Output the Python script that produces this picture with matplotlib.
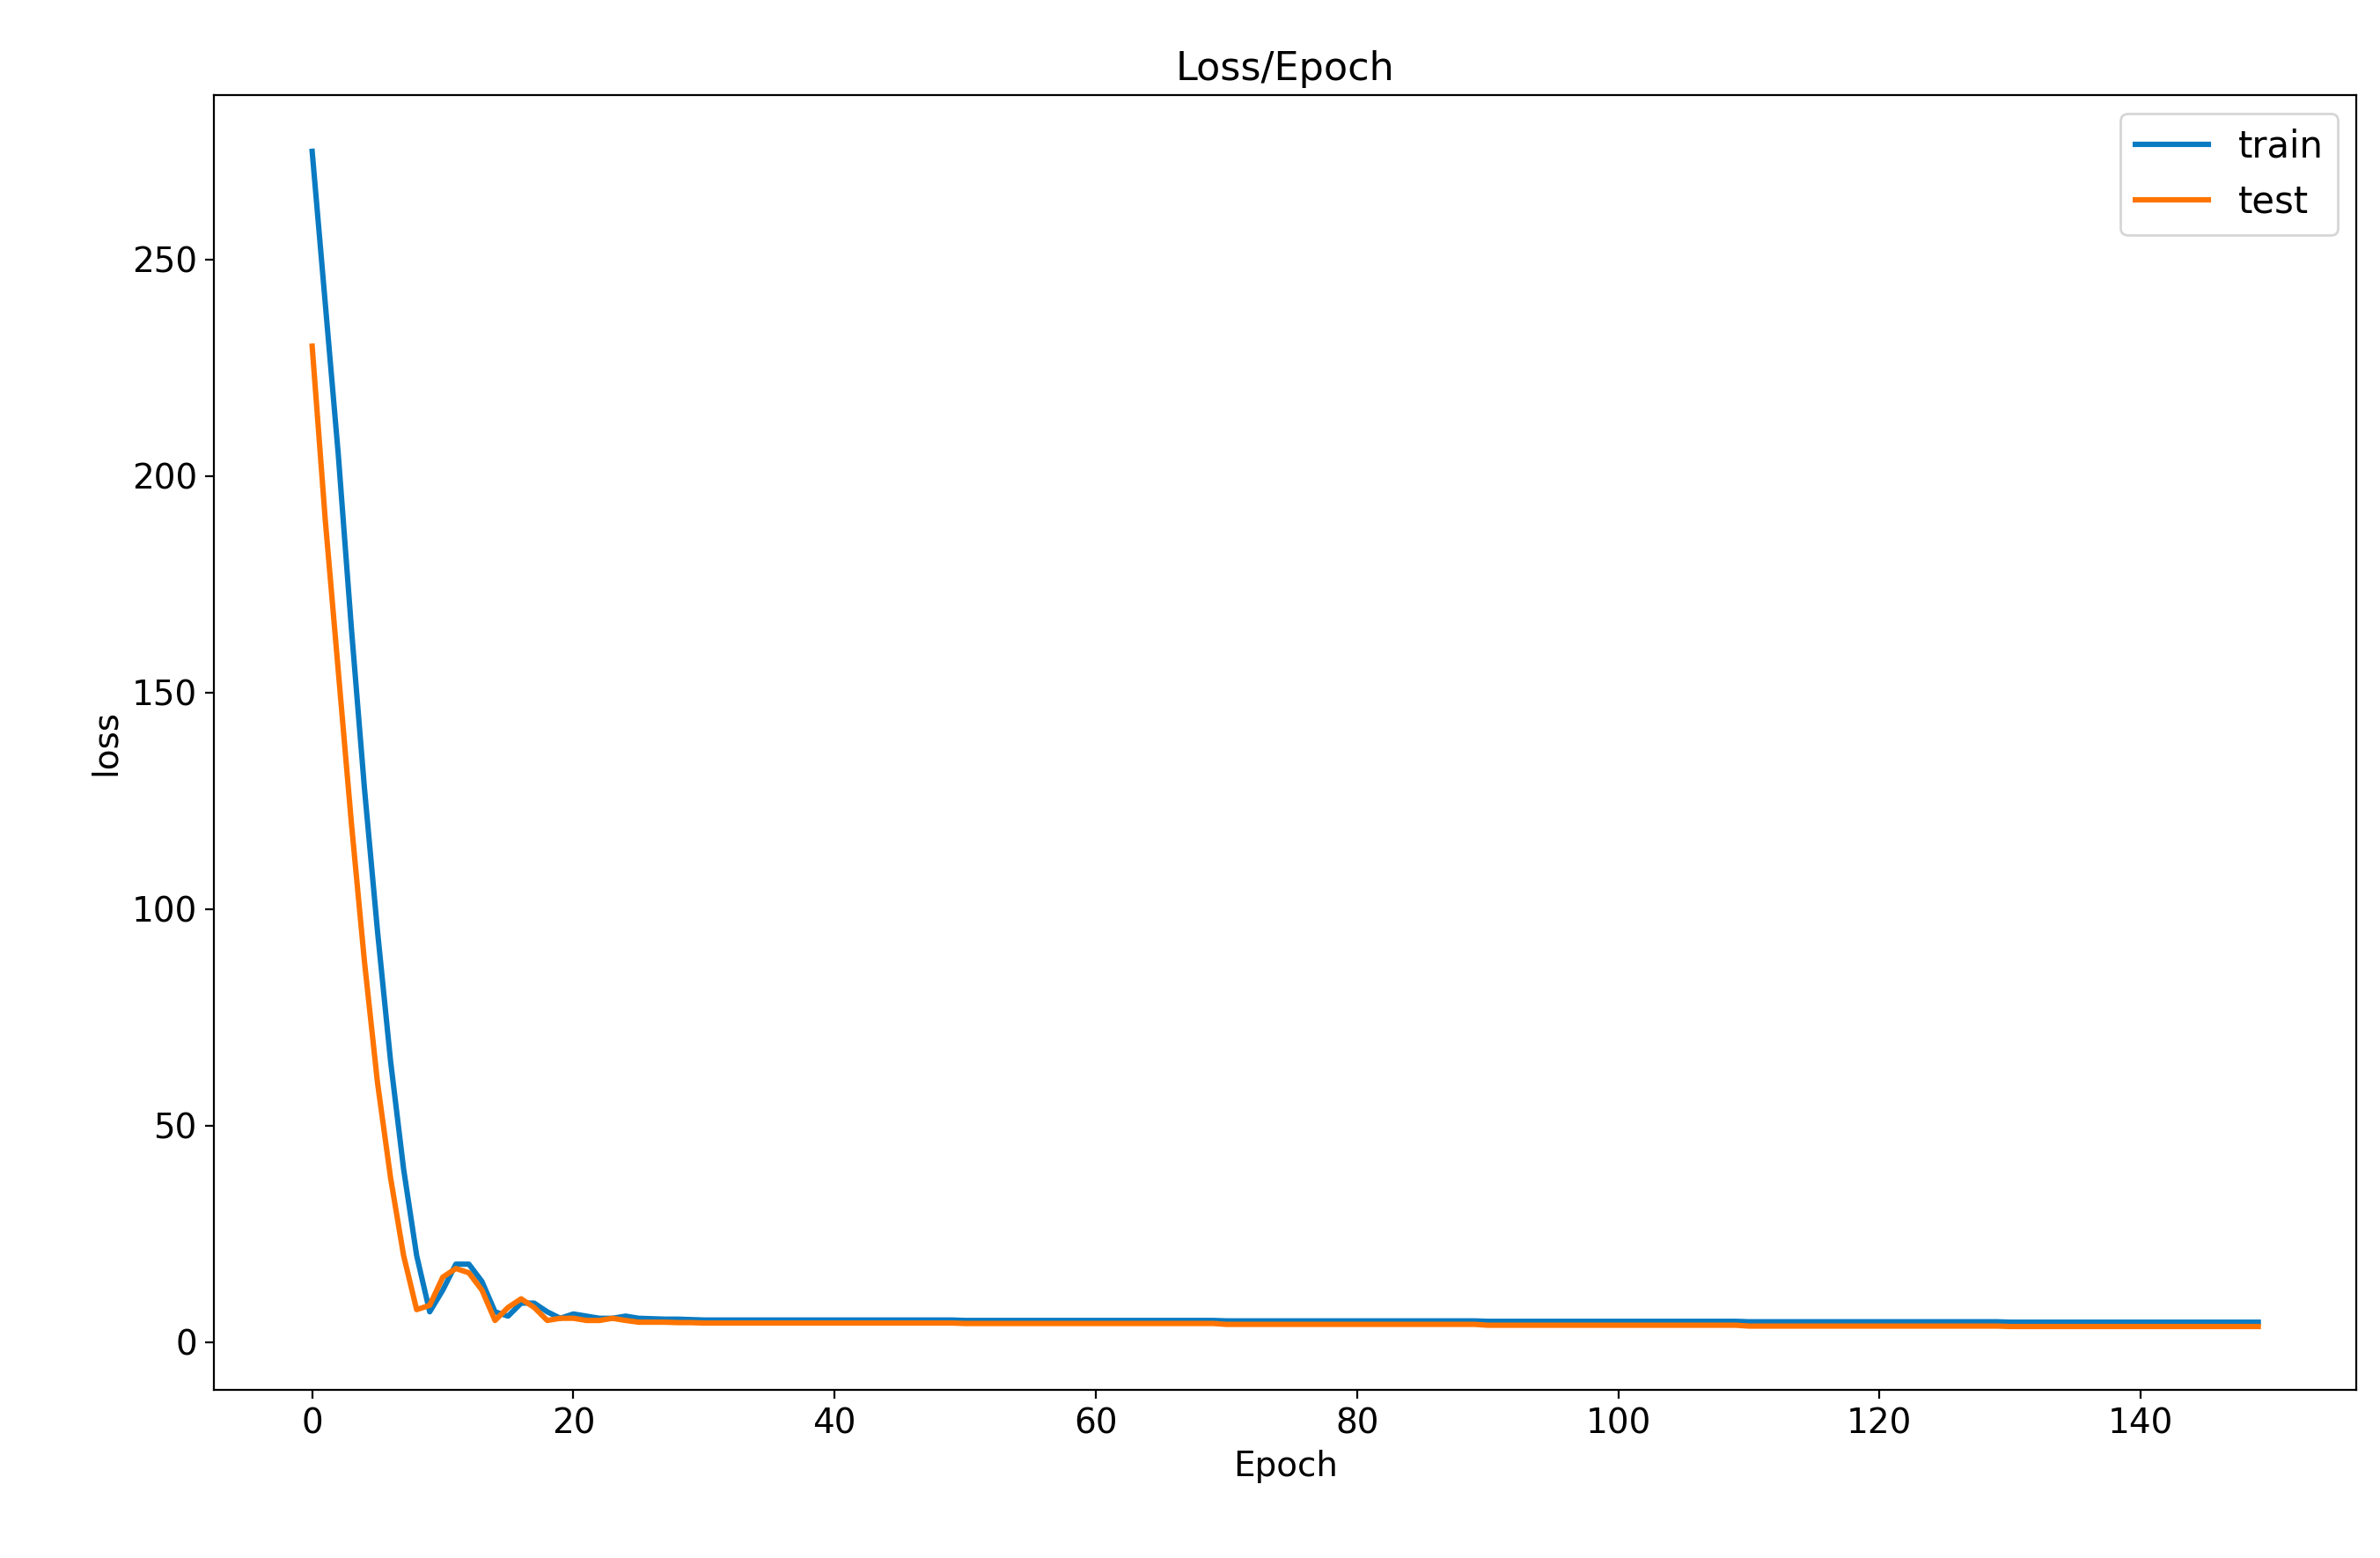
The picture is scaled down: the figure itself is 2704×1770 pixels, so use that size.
import matplotlib
matplotlib.use("Agg")
import matplotlib.pyplot as plt

train_head = [275, 240, 205, 165, 128, 95, 65, 40, 20, 7, 12, 18, 18, 14, 7, 6, 9, 9, 7, 5.5,
              6.5, 6, 5.5, 5.5, 6, 5.5, 5.4, 5.3, 5.3, 5.2]
test_head = [230, 190, 155, 120, 88, 60, 38, 20, 7.5, 8.5, 15, 17, 16, 12, 5, 8, 10, 8, 5, 5.5,
             5.5, 5, 5, 5.5, 5, 4.6, 4.6, 4.6, 4.5, 4.5]
train_tail = ([5.1] * 20 + [5.0] * 20 + [4.9] * 20 + [4.8] * 20 + [4.7] * 20 + [4.6] * 20)
test_tail = ([4.4] * 20 + [4.3] * 20 + [4.1] * 20 + [3.9] * 20 + [3.7] * 20 + [3.6] * 20)
train = train_head + train_tail
test = test_head + test_tail
epochs = list(range(len(train)))

plt.rcParams['font.size'] = 14
fig = plt.figure(figsize=(13.52, 8.85), dpi=200)
ax = fig.add_axes([0.09, 0.108, 0.9, 0.831])
ax.plot(epochs, train, color='#0a7bc2', lw=2.2, label='train')
ax.plot(epochs, test, color='#ff7400', lw=2.2, label='test')
ax.set_xticks([0, 20, 40, 60, 80, 100, 120, 140])
ax.set_yticks([0, 50, 100, 150, 200, 250])
ax.set_xlim(-7.5, 156.5)
ax.set_ylim(-11, 288)
ax.set_title('Loss/Epoch', fontsize=16)
ax.set_xlabel('Epoch', fontsize=14)
ax.set_ylabel('loss', fontsize=14)
ax.legend(loc='upper right', fontsize=15)
fig.savefig('out.png', dpi=200)
